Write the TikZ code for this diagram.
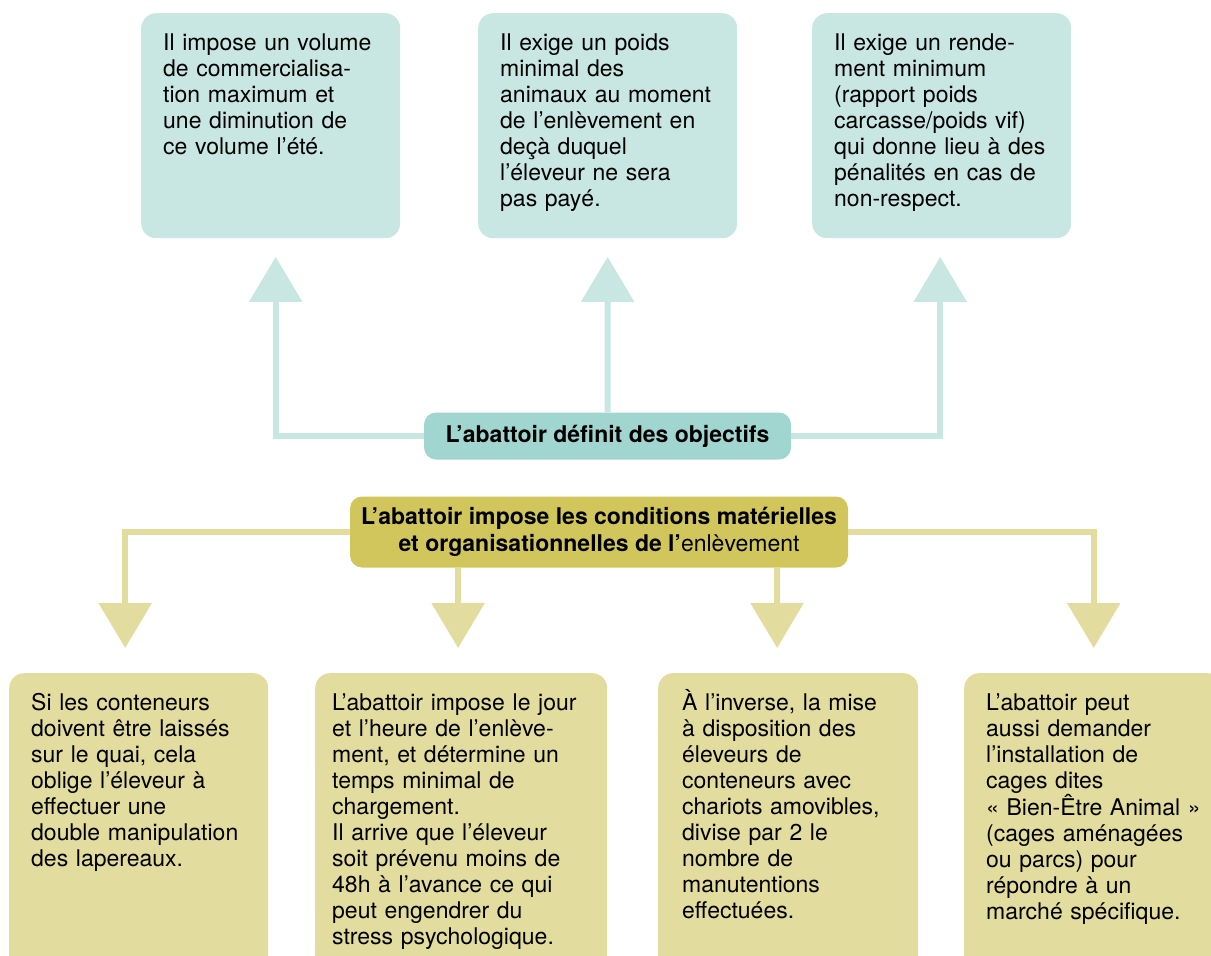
\documentclass[tikz,border=0pt]{standalone}
\usepackage{fontspec}
\setmainfont{TeX Gyre Heros}
\usetikzlibrary{arrows.meta}

\definecolor{goalpale}{RGB}{200,230,226}
\definecolor{goalteal}{RGB}{160,213,208}
\definecolor{condolive}{RGB}{208,198,92}
\definecolor{condpale}{RGB}{226,220,158}

\begin{document}
\begin{tikzpicture}[x=1pt, y=-1pt,
    every node/.style={font=\fontsize{23}{26}\selectfont, text=black},
    textbox/.style={rounded corners=15pt, anchor=north west, align=left,
      inner xsep=22pt, inner ysep=19pt, text width=215pt, text height=18pt},
    goalbox/.style={textbox, fill=goalpale, text depth=169pt},
    condbox/.style={textbox, fill=condpale, text depth=300pt},
    headbox/.style={rounded corners=12pt, align=center, inner sep=0pt,
      font=\fontsize{23}{27}\selectfont\bfseries},
    goalline/.style={draw=goalpale, line width=6pt, shorten >=18.5pt,
      -{Triangle[width=52pt,length=45pt]}},
    condline/.style={draw=condpale, line width=6pt, shorten >=25pt,
      -{Triangle[width=52pt,length=45pt]}}]
  \useasboundingbox (0,0) rectangle (1211,956);
  \clip (0,0) rectangle (1211,956);

  % Objectifs
  \node[goalbox] (t1) at (141,13) {Il impose un volume\\ de commercialisa-\\ tion maximum et\\ une diminution de\\ ce volume l’été.};
  \node[goalbox] (t2) at (478,13) {Il exige un poids\\ minimal des\\ animaux au moment\\ de l’enlèvement en\\ deçà duquel\\ l’éleveur ne sera\\ pas payé.};
  \node[goalbox] (t3) at (812,13) {Il exige un rende-\\ ment minimum\\ (rapport poids\\ carcasse/poids vif)\\ qui donne lieu à des\\ pénalités en cas de\\ non-respect.};
  \node[headbox, fill=goalteal, minimum width=367pt, minimum height=47pt] (goal) at (607.5,436) {L’abattoir définit des objectifs};

  \draw[goalline] (goal.west) -| ([xshift=5pt]t1.south);
  \draw[goalline] (goal.north) -- (t2.south);
  \draw[goalline] (goal.east) -| ([xshift=-1.5pt]t3.south);

  % Conditions de l'enlèvement
  \node[headbox, fill=condolive, minimum width=498pt, minimum height=71pt] (cond) at (599,532) {L’abattoir impose les conditions matérielles\\ et organisationnelles de l’{\mdseries enlèvement}};
  \node[condbox] (b1) at (9,673) {Si les conteneurs\\ doivent être laissés\\ sur le quai, cela\\ oblige l’éleveur à\\ effectuer une\\ double manipulation\\ des lapereaux.};
  \node[condbox, inner xsep=17pt, text width=258pt] (b2) at (315,673) {L’abattoir impose le jour\\ et l’heure de l’enlève-\\ ment, et détermine un\\ temps minimal de\\ chargement.\\ Il arrive que l’éleveur\\ soit prévenu moins de\\ 48h à l’avance ce qui\\ peut engendrer du\\ stress psychologique.};
  \node[condbox, inner xsep=24pt, text width=212pt] (b3) at (658,673) {À l’inverse, la mise\\ à disposition des\\ éleveurs de\\ conteneurs avec\\ chariots amovibles,\\ divise par 2 le\\ nombre de\\ manutentions\\ effectuées.};
  \node[condbox] (b4) at (964,673) {L’abattoir peut\\ aussi demander\\ l’installation de\\ cages dites\\ «~Bien-Être Animal~»\\ (cages aménagées\\ ou parcs) pour\\ répondre à un\\ marché spécifique.};

  \draw[condline] (cond.west) -| ([xshift=-13.5pt]b1.north);
  \draw[condline] ([xshift=-141pt]cond.south) -- ([xshift=-3pt]b2.north);
  \draw[condline] ([xshift=178pt]cond.south) -- ([xshift=-11pt]b3.north);
  \draw[condline] (cond.east) -| (b4.north);
\end{tikzpicture}
\end{document}
